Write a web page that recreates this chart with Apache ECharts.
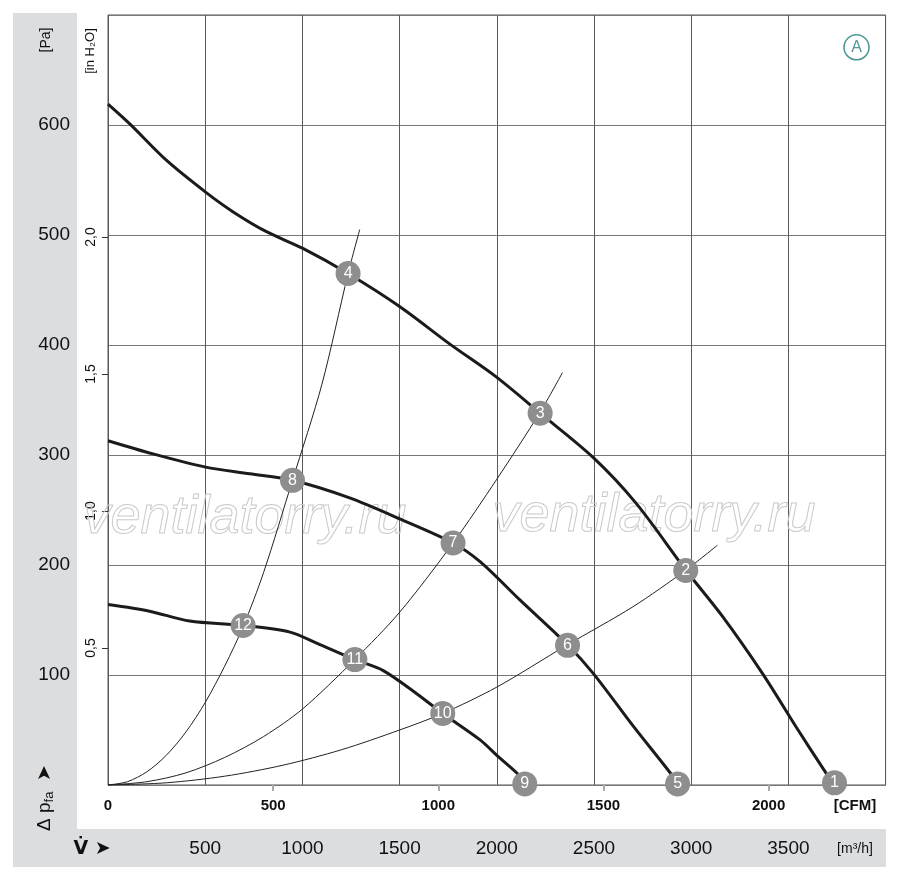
<!DOCTYPE html>
<html>
<head>
<meta charset="utf-8">
<script src="https://cdn.jsdelivr.net/npm/echarts@6/dist/echarts.min.js"></script>
<style>
  html, body { margin: 0; padding: 0; background: #fff; }
  #chart { width: 900px; height: 877px; }
</style>
</head>
<body>
<div id="chart"></div>
<script>
// fan curves, [m3/h, Pa]
const curveHigh = [
  [0, 619], [112, 601], [300, 568], [502, 539], [644, 521], [815, 503], [1000, 488],
  [1235, 465], [1500, 435], [1757, 401], [1997, 371], [2223, 338], [2494, 298],
  [2717, 256], [2974, 195], [3162, 153], [3368, 101], [3539, 53], [3693, 11], [3737, 0]
];
const curveMid = [
  [0, 313], [232, 301], [502, 289], [729, 283], [949, 277], [1243, 261], [1500, 242],
  [1775, 220], [1914, 203], [2120, 168], [2366, 127], [2498, 101], [2704, 53],
  [2901, 9], [2933, 0]
];
const curveLow = [
  [0, 164], [214, 158], [420, 149], [695, 145], [936, 139], [1073, 129], [1270, 114],
  [1416, 104], [1588, 83], [1722, 65], [1914, 41], [2000, 27], [2120, 8], [2145, 0]
];

// system curves (thin)
const systemSteep = [
  [0, 0], [100, 3], [200, 12], [300, 27], [400, 48], [500, 75], [600, 108],
  [695, 144], [800, 193], [949, 277], [1100, 364], [1235, 465], [1295, 505]
];
const systemMid = [
  [0, 0], [200, 3], [400, 11], [600, 25], [800, 44], [1000, 69], [1269, 114],
  [1500, 157], [1775, 220], [2000, 278], [2223, 339], [2338, 375]
];
const systemFlat = [
  [0, 0], [300, 2], [600, 8], [900, 18], [1200, 32], [1500, 50], [1721, 65],
  [2000, 89], [2359, 127], [2700, 162], [2970, 195], [3135, 218]
];

// numbered operating points
const pointNumbers = [1, 2, 3, 4, 5, 6, 7, 8, 9, 10, 11, 12];
const pointValues = [
  [3737, 2], [2972, 195], [2223, 338], [1235, 465], [2930, 1], [2364, 127],
  [1775, 220], [949, 277], [2144, 1], [1722, 65], [1270, 114], [695, 145]
];

// tick labels
const cfmTicks = [0, 500, 1000, 1500, 2000];
const inH2OTicks = [0.5, 1, 1.5, 2];

const FONT = '"Liberation Sans", Arial, sans-serif';
const TEXT = '#111';
const CFM_PER_M3H = 1 / 1.699;
const PA_PER_INH2O = 249.089;

const chart = echarts.init(document.getElementById('chart'), null, { renderer: 'canvas' });

const fanLine = data => ({
  type: 'line',
  data: data,
  smooth: 0.3,
  showSymbol: false,
  silent: true,
  lineStyle: { color: '#1b1b1b', width: 3 },
  z: 3
});
const sysLine = data => ({
  type: 'line',
  data: data,
  smooth: 0.3,
  showSymbol: false,
  silent: true,
  lineStyle: { color: '#222', width: 1 },
  z: 2
});

const plain = v => String(v);

const option = {
  backgroundColor: '#fff',
  animation: false,
  grid: {
    left: 108,
    right: 14.4,
    top: 15,
    bottom: 92,
    show: true,
    borderColor: '#555',
    borderWidth: 1
  },
  xAxis: [
    {
      type: 'value',
      min: 0,
      max: 4000,
      interval: 500,
      position: 'bottom',
      axisLine: { show: false },
      axisTick: { show: false },
      splitLine: { show: true, lineStyle: { color: '#5a5a5a', width: 1 } },
      axisLabel: {
        margin: 54,
        fontFamily: FONT,
        fontSize: 19,
        color: TEXT,
        showMinLabel: false,
        showMaxLabel: false,
        formatter: plain
      }
    },
    {
      type: 'value',
      min: 0,
      max: 4000 * CFM_PER_M3H,
      position: 'bottom',
      axisLine: { show: false },
      axisTick: {
        show: true,
        length: 6,
        customValues: cfmTicks.filter(v => v > 0),
        lineStyle: { color: '#aaa', width: 2 }
      },
      splitLine: { show: false },
      axisLabel: {
        customValues: cfmTicks,
        margin: 13,
        fontFamily: FONT,
        fontSize: 15,
        fontWeight: 'bold',
        color: TEXT,
        formatter: plain
      }
    }
  ],
  yAxis: [
    {
      type: 'value',
      min: 0,
      max: 700,
      interval: 100,
      position: 'left',
      axisLine: { show: false },
      axisTick: { show: false },
      splitLine: { show: true, lineStyle: { color: '#777', width: 1 } },
      axisLabel: {
        margin: 38,
        fontFamily: FONT,
        fontSize: 19,
        color: TEXT,
        showMinLabel: false,
        showMaxLabel: false,
        formatter: plain
      }
    },
    {
      type: 'value',
      min: 0,
      max: 700 / PA_PER_INH2O,
      position: 'left',
      axisLine: { show: false },
      axisTick: {
        show: true,
        length: 6,
        customValues: inH2OTicks,
        lineStyle: { color: '#333', width: 1 }
      },
      splitLine: { show: false },
      axisLabel: {
        customValues: inH2OTicks,
        rotate: 90,
        margin: 10,
        fontFamily: FONT,
        fontSize: 14,
        color: TEXT,
        formatter: v => v.toFixed(1).replace('.', ',')
      }
    }
  ],
  graphic: [
    { type: 'rect', shape: { x: 13, y: 13, width: 64, height: 816 }, style: { fill: '#dcdddf' }, z: -10, silent: true },
    { type: 'rect', shape: { x: 13, y: 829, width: 873, height: 38 }, style: { fill: '#dcdddf' }, z: -10, silent: true },
    {
      type: 'text', x: 46, y: 40, rotation: Math.PI / 2, silent: true,
      style: { text: '[Pa]', font: '14px ' + FONT, fill: TEXT, align: 'center', verticalAlign: 'middle' }
    },
    {
      type: 'text', x: 90, y: 51, rotation: Math.PI / 2, silent: true,
      style: { text: '[in H₂O]', font: '13px ' + FONT, fill: TEXT, align: 'center', verticalAlign: 'middle' }
    },
    {
      type: 'text', x: 45, y: 798, rotation: Math.PI / 2, silent: true,
      style: {
        text: '{a|Δ p}{s|fa}{a|  ➤}',
        align: 'center', verticalAlign: 'middle', fill: TEXT,
        rich: {
          a: { fontFamily: FONT, fontSize: 19, color: TEXT, lineHeight: 22 },
          s: { fontFamily: FONT, fontSize: 13, color: TEXT, lineHeight: 22, verticalAlign: 'bottom', padding: [6, 0, 0, 0] }
        }
      }
    },
    {
      type: 'text', x: 92, y: 849, silent: true,
      style: { text: 'V̇ ➤', font: 'bold 19px "DejaVu Sans", ' + FONT, fill: TEXT, align: 'center', verticalAlign: 'middle' }
    },
    {
      type: 'text', x: 855, y: 849, silent: true,
      style: { text: '[m³/h]', font: '14px ' + FONT, fill: TEXT, align: 'center', verticalAlign: 'middle' }
    },
    {
      type: 'text', x: 855, y: 806, silent: true,
      style: { text: '[CFM]', font: 'bold 15px ' + FONT, fill: TEXT, align: 'center', verticalAlign: 'middle' }
    },
    {
      type: 'circle', shape: { cx: 856.5, cy: 47.3, r: 12.5 }, silent: true,
      style: { fill: '#fff', stroke: '#4e9a97', lineWidth: 1.6 }, z: 20
    },
    {
      type: 'text', x: 856.5, y: 48, silent: true, z: 21,
      style: { text: 'A', font: '16px ' + FONT, fill: '#4e9a97', align: 'center', verticalAlign: 'middle' }
    },
    {
      type: 'text', x: 245, y: 518, silent: true, z: 1,
      style: { text: 'ventilatorry.ru', font: 'italic 54px ' + FONT, fill: 'rgba(0,0,0,0)', stroke: '#c9c9c9', lineWidth: 1, align: 'center', verticalAlign: 'middle' }
    },
    {
      type: 'text', x: 654, y: 516, silent: true, z: 1,
      style: { text: 'ventilatorry.ru', font: 'italic 54px ' + FONT, fill: 'rgba(0,0,0,0)', stroke: '#c9c9c9', lineWidth: 1, align: 'center', verticalAlign: 'middle' }
    }
  ],
  series: [
    sysLine(systemSteep),
    sysLine(systemMid),
    sysLine(systemFlat),
    fanLine(curveHigh),
    fanLine(curveMid),
    fanLine(curveLow),
    {
      type: 'scatter',
      data: pointValues.map((p, i) => ({ value: p, name: String(pointNumbers[i]) })),
      symbol: 'circle',
      symbolSize: 25,
      silent: true,
      itemStyle: { color: '#8e8e8e', opacity: 1 },
      label: {
        show: true,
        position: 'inside',
        formatter: p => p.name,
        fontFamily: FONT,
        fontSize: 16,
        color: '#fff'
      },
      z: 10
    }
  ]
};

chart.setOption(option);
</script>
</body>
</html>
